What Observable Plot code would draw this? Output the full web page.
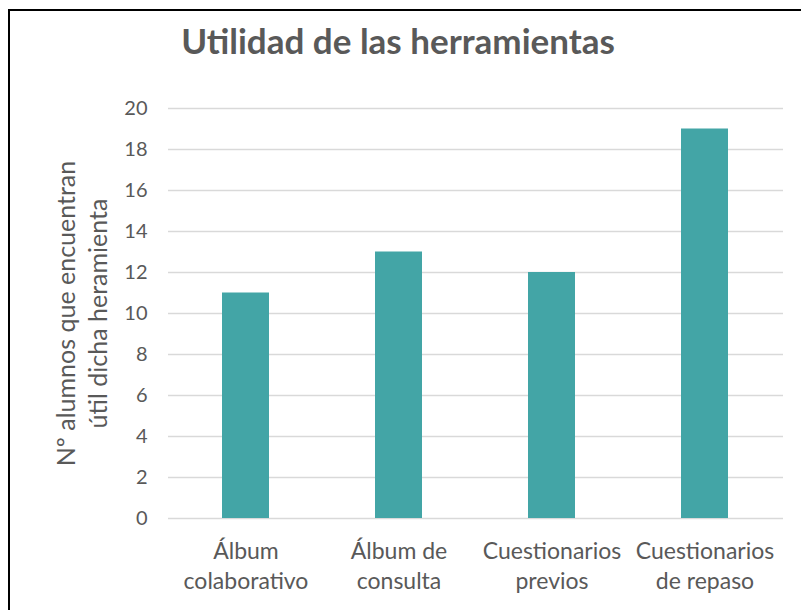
<!DOCTYPE html>
<html><head><meta charset="utf-8">
<script src="https://cdn.jsdelivr.net/npm/d3@7"></script>
<script src="https://cdn.jsdelivr.net/npm/@observablehq/plot@0.6"></script>
<style>
body{margin:0;background:#fff;}
#wrap{position:relative;width:801px;height:610px;overflow:hidden;}
#frame{position:absolute;left:8px;top:9px;width:900px;height:700px;border:2px solid #000;pointer-events:none;}
#wrap svg{position:absolute;left:0;top:0;}
</style></head><body>
<div id="wrap"><div id="frame"></div></div>
<script>
const title = "Utilidad de las herramientas";
const yLabel = "Nº alumnos que encuentran\nútil dicha heramienta";
const categories = ["Álbum\ncolaborativo", "Álbum de\nconsulta", "Cuestionarios\nprevios", "Cuestionarios\nde repaso"];
const values = [11, 13, 12, 19];
const yTicks = [0, 2, 4, 6, 8, 10, 12, 14, 16, 18, 20];

const data = categories.map((c, i) => ({category: c, value: values[i]}));
const grey = "#595959";

const chart = Plot.plot({
  width: 801, height: 610,
  marginLeft: 168, marginRight: 18, marginTop: 108, marginBottom: 92,
  style: {fontFamily: "Lato, 'Open Sans', sans-serif", color: grey, background: "transparent"},
  x: {domain: categories, paddingInner: 0.69, paddingOuter: 0.345, label: null},
  y: {domain: [0, 20], label: null},
  marks: [
    Plot.gridY(yTicks, {stroke: "#d9d9d9", strokeOpacity: 1, strokeWidth: 1.5}),
    Plot.barY(data, {x: "category", y: "value", fill: "#43A5A6"}),
    Plot.axisY(yTicks, {tickSize: 0, tickPadding: 21, fontSize: 20, fill: grey, label: null}),
    Plot.axisX({tickSize: 0, tickPadding: 20, fontSize: 23, lineHeight: 1.28, fill: grey, label: null}),
    Plot.text([title], {frameAnchor: "top", lineAnchor: "middle", textAnchor: "middle", dx: -78, dy: -66, fontSize: 35, fontWeight: "bold", fill: grey}),
    Plot.text([yLabel], {frameAnchor: "left", lineAnchor: "middle", textAnchor: "middle", rotate: -90, dx: -88, fontSize: 25, lineHeight: 1.3, fill: grey})
  ]
});
document.getElementById("wrap").appendChild(chart);
</script>
</body></html>
